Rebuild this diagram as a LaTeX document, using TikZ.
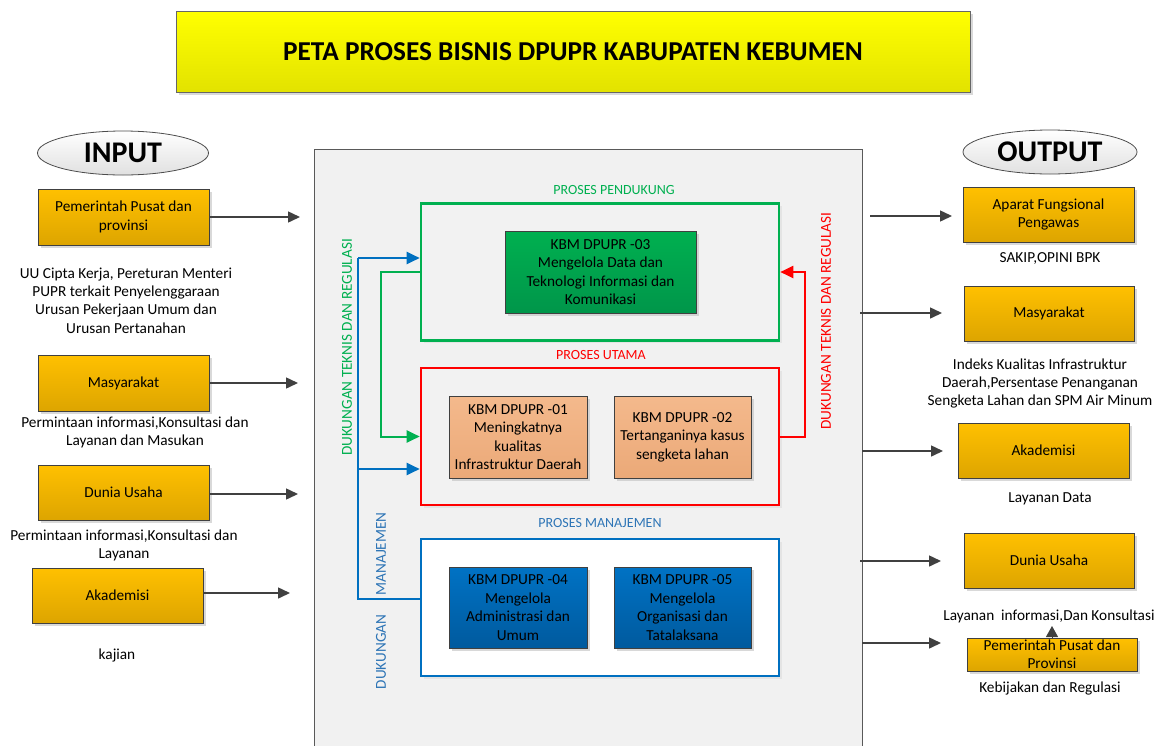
\documentclass[tikz,border=0pt]{standalone}
\usepackage{fontspec}
\setmainfont{Carlito}
\usetikzlibrary{arrows.meta,shadows,shapes.geometric}
\definecolor{ttlY}{HTML}{FFFF00}
\definecolor{ttlY2}{HTML}{E2E200}
\definecolor{orA}{HTML}{FFC000}
\definecolor{orB}{HTML}{DDA500}
\definecolor{salA}{HTML}{F4B98C}
\definecolor{salB}{HTML}{EBA978}
\definecolor{dgA}{HTML}{00B050}
\definecolor{dgB}{HTML}{00964A}
\definecolor{dbA}{HTML}{0072C4}
\definecolor{dbB}{HTML}{005A9E}
\definecolor{gC}{HTML}{00B050}
\definecolor{rC}{HTML}{FF0000}
\definecolor{bC}{HTML}{0070C0}
\definecolor{bT}{HTML}{2E75B6}
\definecolor{edgeC}{HTML}{404040}
\definecolor{panelC}{HTML}{F1F1F1}
\begin{document}
\begin{tikzpicture}[x=1pt,y=-1pt,
  shd/.style={drop shadow={shadow xshift=2.5pt,shadow yshift=-2.5pt,fill=black!25,opacity=0.6}},
  titlebox/.style={draw=black!60,line width=0.8pt,top color=ttlY,bottom color=ttlY2,minimum width=794pt,minimum height=81pt,inner sep=0pt,font=\fontsize{27.3}{31}\selectfont\bfseries,shd},
  oval/.style={ellipse,draw=black!70,line width=0.8pt,top color=white,bottom color=black!12,inner sep=0pt,font=\fontsize{30}{34}\selectfont\bfseries},
  obox/.style={draw=edgeC,line width=0.8pt,top color=orA,bottom color=orB,minimum width=171pt,minimum height=55pt,inner sep=0pt,align=center,font=\fontsize{15.3}{18.5}\selectfont,shd},
  txt/.style={align=center,inner sep=0pt,font=\fontsize{15.3}{18.4}\selectfont},
  panel/.style={draw=black!65,line width=0.8pt,fill=panelC,minimum width=548pt,minimum height=606pt,inner sep=0pt},
  grp/.style={line width=2.6pt,fill=black!5,minimum width=358pt,minimum height=137pt,inner sep=0pt,drop shadow={shadow xshift=2.5pt,shadow yshift=-2.5pt,fill=black!15}},
  kbox/.style={draw=edgeC,line width=0.8pt,minimum width=138pt,minimum height=82pt,inner sep=0pt,align=center,font=\fontsize{15.3}{18.6}\selectfont,shd},
  lab/.style={inner sep=0pt,font=\fontsize{14}{16}\selectfont},
  vlab/.style={inner sep=0pt,rotate=90,font=\fontsize{15.2}{17}\selectfont},
  garr/.style={draw=edgeC,line width=1.5pt,-{Triangle[length=12pt,width=11pt]}},
  cline/.style={line width=2pt},
  carr/.style={line width=2pt,-{Triangle[length=13pt,width=12pt]}}
]
\useasboundingbox (0,0) rectangle (1165,745);
% title
\node[titlebox] (title) at (573,52) {PETA PROSES BISNIS DPUPR KABUPATEN KEBUMEN};
% panel
\node[panel] (panel) at (588,452) {};
% group boxes
\node[lab,text=gC] (lpend) at (614,190) {PROSES PENDUKUNG};
\node[grp,draw=gC] (greenbox) at (600,272) {};
\node[kbox,top color=dgA,bottom color=dgB,minimum width=191pt] (k3) at (600.5,272) {KBM DPUPR -03\\Mengelola Data dan\\Teknologi Informasi dan\\Komunikasi};
\node[lab,text=rC] (lutama) at (601,355) {PROSES UTAMA};
\node[grp,draw=rC] (redbox) at (600,436.5) {};
\node[kbox,top color=salA,bottom color=salB] (k1) at (518,437) {KBM DPUPR -01\\Meningkatnya\\kualitas\\Infrastruktur Daerah};
\node[kbox,top color=salA,bottom color=salB,minimum width=137pt] (k2) at (682.5,437) {KBM DPUPR -02\\Tertanganinya kasus\\sengketa lahan};
\node[lab,text=bT] (lman) at (600,523) {PROSES MANAJEMEN};
\node[grp,draw=bC,fill=white] (bluebox) at (600,607.5) {};
\node[kbox,top color=dbA,bottom color=dbB,minimum height=81pt] (k4) at (518,607.5) {KBM DPUPR -04\\Mengelola\\Administrasi dan\\Umum};
\node[kbox,top color=dbA,bottom color=dbB,minimum height=81pt,minimum width=137pt] (k5) at (682.5,607.5) {KBM DPUPR -05\\Mengelola\\Organisasi dan\\Tatalaksana};
% vertical labels
\node[vlab,text=gC] (vgreen) at (347,347.5) {DUKUNGAN TEKNIS DAN REGULASI};
\node[vlab,text=rC] (vred) at (826,321) {DUKUNGAN TEKNIS DAN REGULASI};
\node[vlab,text=bT] (vman) at (381,554) {MANAJEMEN};
\node[vlab,text=bT] (vduk) at (381,652) {DUKUNGAN};
% blue connectors
\coordinate (b1) at (358,258);
\coordinate (b2) at (358,469);
\coordinate (b3) at (358,599);
\draw[cline,draw=bC] (bluebox.west |- b3) -- (b3) -- (b1);
\draw[carr,draw=bC] (b1) -- (greenbox.west |- b1);
\draw[carr,draw=bC] (b2) -- (redbox.west |- b2);
% green connector
\coordinate (g1) at (381,272);
\coordinate (g2) at (381,436.5);
\draw[carr,draw=gC] (greenbox.west) -- (g1) -- (g2) -- (redbox.west);
% red connector
\coordinate (r1) at (805,436.5);
\coordinate (r2) at (805,272);
\draw[carr,draw=rC] (redbox.east) -- (r1) -- (r2) -- (greenbox.east);
% INPUT side
\node[oval,minimum width=171pt,minimum height=44pt] (input) at (123,153) {INPUT};
\node[obox,minimum height=56pt] (in1) at (123.5,217) {Pemerintah Pusat dan\\provinsi};
\node[txt] (tin1) at (126,300.5) {UU Cipta Kerja, Pereturan Menteri\\PUPR terkait Penyelenggaraan\\Urusan Pekerjaan Umum dan\\Urusan Pertanahan};
\node[obox,minimum height=56pt] (in2) at (123.5,383) {Masyarakat};
\node[txt] (tin2) at (135,432.5) {Permintaan informasi,Konsultasi dan\\Layanan dan Masukan};
\node[obox] (in3) at (123.5,492.5) {Dunia Usaha};
\node[txt] (tin3) at (124,545.5) {Permintaan informasi,Konsultasi dan\\Layanan};
\node[obox] (in4) at (117.5,595.5) {Akademisi};
\node[txt] (tin4) at (117,655) {kajian};
\coordinate (ie1) at (300,217);
\coordinate (ie2) at (298,383);
\coordinate (ie3) at (298,494);
\coordinate (ie4) at (290,593);
\draw[garr] (in1.east) -- (ie1);
\draw[garr] (in2.east) -- (ie2);
\draw[garr] (in3.east |- ie3) -- (ie3);
\draw[garr] (in4.east |- ie4) -- (ie4);
% OUTPUT side
\node[oval,minimum width=174pt,minimum height=44pt] (output) at (1050,152) {OUTPUT};
\node[obox] (out1) at (1048.5,214.5) {Aparat Fungsional\\Pengawas};
\node[txt] (tout1) at (1050,259) {SAKIP,OPINI BPK};
\node[obox,minimum width=170pt] (out2) at (1049,313.5) {Masyarakat};
\node[txt] (tout2) at (1040,383.5) {Indeks Kualitas Infrastruktur\\Daerah,Persentase Penanganan\\Sengketa Lahan dan SPM Air Minum};
\node[obox] (out3) at (1043.5,450.5) {Akademisi};
\node[txt] (tout3) at (1050,499) {Layanan Data};
\node[obox,minimum width=170pt] (out4) at (1049,560.5) {Dunia Usaha};
\node[txt] (tout4) at (1049,616) {Layanan\ \ informasi,Dan Konsultasi};
\node[obox,minimum width=170pt,minimum height=33pt,font=\fontsize{15.3}{18}\selectfont] (out5) at (1052,654.5) {Pemerintah Pusat dan\\Provinsi};
\node[txt] (tout5) at (1050,688) {Kebijakan dan Regulasi};
\coordinate (os1) at (870,216);  \coordinate (oe1) at (952,216);
\coordinate (os2) at (860,313);  \coordinate (oe2) at (942,313);
\coordinate (os3) at (862,451);  \coordinate (oe3) at (943,451);
\coordinate (os4) at (860,561);  \coordinate (oe4) at (941,561);
\coordinate (os5) at (862,643);  \coordinate (oe5) at (941,643);
\draw[garr] (os1) -- (oe1);
\draw[garr] (os2) -- (oe2);
\draw[garr] (os3) -- (oe3);
\draw[garr] (os4) -- (oe4);
\draw[garr] (os5) -- (oe5);
\coordinate (up5) at (1052,626);
\draw[draw=edgeC,line width=1pt,-{Triangle[length=11pt,width=12pt]}] (out5.north) -- (up5);
\end{tikzpicture}
\end{document}
